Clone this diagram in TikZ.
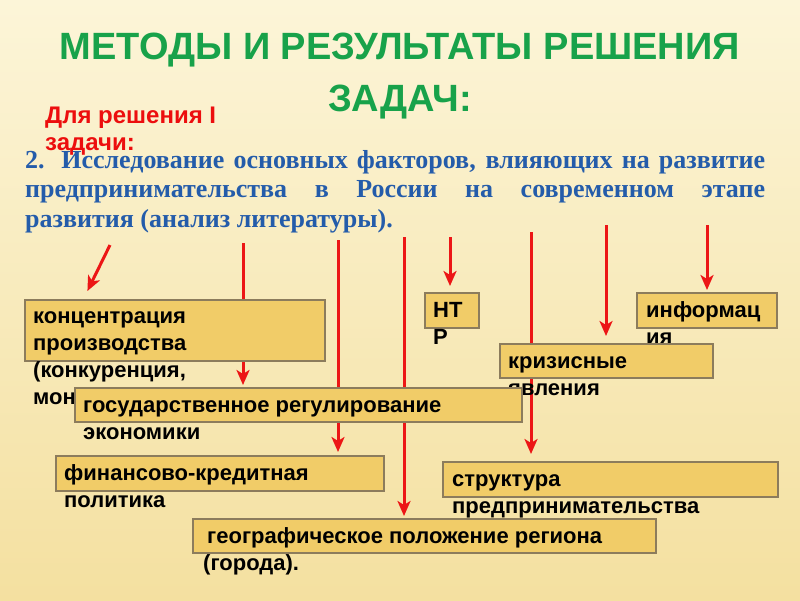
\documentclass[tikz,border=0pt]{standalone}
\usepackage{fontspec}
\setmainfont{Liberation Sans}
\newfontfamily\bodyfont{Liberation Serif}
\usetikzlibrary{arrows.meta, positioning, calc}

\definecolor{titlegreen}{RGB}{24,162,74}
\definecolor{notered}{RGB}{236,14,14}
\definecolor{textblue}{RGB}{36,92,170}
\definecolor{boxfill}{RGB}{241,204,104}
\definecolor{boxline}{RGB}{140,124,92}
\definecolor{arrowred}{RGB}{236,22,22}
\definecolor{bgtop}{RGB}{252,245,216}
\definecolor{bgbottom}{RGB}{244,224,160}

\pgfdeclarelayer{bg}
\pgfsetlayers{bg,main}

\begin{document}
\begin{tikzpicture}[
            x=1pt, y=-1pt,
            factor/.style={
                draw=boxline,
                line width=1.4pt,
                fill=boxfill,
                anchor=north west,
                inner sep=0pt,
                outer sep=0pt
            },
            factortext/.style={
                anchor=north west,
                inner sep=0pt,
                align=left,
                font=\bfseries\fontsize{22}{27}\selectfont
            },
            link/.style={
                draw=arrowred,
                line width=3pt,
                -{Stealth[length=15pt, width=13pt, inset=4pt]} % red pointers
            }
        ]
        \useasboundingbox (0,0) rectangle (800,600);

        % heading
        \node[anchor=north, align=center, inner sep=0pt, text=titlegreen,
            font=\bfseries\fontsize{38}{52}\selectfont] (title) at (400,22.6)
            {\strut МЕТОДЫ И РЕЗУЛЬТАТЫ РЕШЕНИЯ\\ЗАДАЧ:};
        \node[anchor=north west, align=left, inner sep=0pt, text=notered,
            font=\bfseries\fontsize{24}{27}\selectfont] (task) at (45,104.1)
            {\strut Для решения I\\задачи:};
        \node[anchor=north west, inner sep=0pt, text width=740pt, align=justify, text=textblue,
            font=\bodyfont\bfseries\fontsize{26}{29.5}\selectfont] (goal) at (25,147.4)
            {\strut 2. Исследование основных факторов, влияющих на развитие\linebreak
             предпринимательства в России на современном этапе\linebreak
             развития (анализ литературы).};

        % factors
        \node[factor, minimum width=300pt, minimum height=61pt] (kon) at (25,300) {};
        \node[factortext] (konText) at ($(kon.north west)+(8,4.6)$)
            {\strut концентрация\\производства\\(конкуренция,\\мон};
        \node[factor, minimum width=54pt, minimum height=35pt] (ntr) at (425,293) {};
        \node[factortext] (ntrText) at ($(ntr.north west)+(8,5)$) {\strut НТ\\Р};
        \node[factor, minimum width=140pt, minimum height=35pt] (inf) at (637,293) {};
        \node[factortext] (infText) at ($(inf.north west)+(9,5)$) {\strut информац\\ия};
        \node[factor, minimum width=213pt, minimum height=34pt] (kri) at (500,344) {};
        \node[factortext] (kriText) at ($(kri.north west)+(8,5)$) {\strut кризисные\\явления};
        \node[factor, minimum width=447pt, minimum height=34pt] (gos) at (75,388) {};
        \node[factortext] (gosText) at ($(gos.north west)+(8,5)$)
            {\strut государственное регулирование\\экономики};
        \node[factor, minimum width=328pt, minimum height=35pt] (fin) at (56,456) {};
        \node[factortext] (finText) at ($(fin.north west)+(8,5)$)
            {\strut финансово-кредитная\\политика};
        \node[factor, minimum width=335pt, minimum height=35pt] (str) at (443,462) {};
        \node[factortext] (strText) at ($(str.north west)+(9,5)$)
            {\strut структура\\предпринимательства};
        \node[factor, minimum width=463pt, minimum height=34pt] (geo) at (193,519) {};
        \node[factortext] (geoText) at ($(geo.north west)+(10,5)$)
            {\strut\hspace*{4pt}географическое положение региона\\(города).};

        \begin{pgfonlayer}{bg}
            \fill[top color=bgtop, bottom color=bgbottom] (0,0) rectangle (800,600);
            \coordinate (s1) at (110,245);
            \coordinate (s2) at (243,243);
            \coordinate (s3) at (338,240);
            \coordinate (s4) at (404,237);
            \coordinate (s5) at (450,237);
            \coordinate (s6) at (531,232);
            \coordinate (s7) at (606,225);
            \coordinate (s8) at (707,225);
            \draw[link, shorten >=10pt] (s1) -- ($(kon.north west)+(58,0)$);
            \draw[link, shorten >=3pt] (s2) -- (s2 |- gos.north);
            \draw[link, shorten >=4pt] (s3) -- (s3 |- fin.north);
            \draw[link, shorten >=3pt] (s4) -- (s4 |- geo.north);
            \draw[link, shorten >=7pt] (s5) -- (s5 |- ntr.north);
            \draw[link, shorten >=8pt] (s6) -- (s6 |- str.north);
            \draw[link, shorten >=8pt] (s7) -- (s7 |- kri.north);
            \draw[link, shorten >=3pt] (s8) -- (s8 |- inf.north);
        \end{pgfonlayer}
    \end{tikzpicture}
\end{document}
